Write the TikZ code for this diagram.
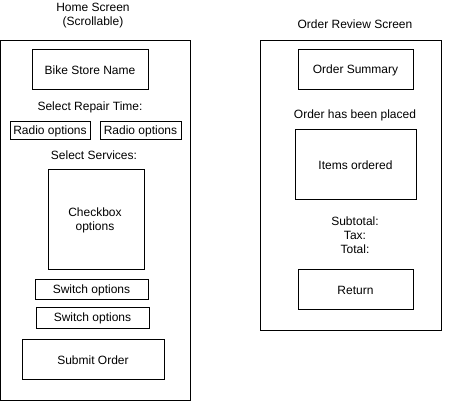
\documentclass[tikz,border=0pt]{standalone}
\usepackage{fontspec}
\setmainfont{Liberation Sans}
\begin{document}
\begin{tikzpicture}[x=1pt,y=-1pt,
  box/.style={draw=black,line width=1pt,inner sep=0pt,font=\fontsize{12}{14}\selectfont,align=center},
  lbl/.style={inner sep=0pt,font=\fontsize{12}{14}\selectfont,align=center}]
\useasboundingbox (0,0) rectangle (451,401);
% left screen
\node[lbl] (hometitle) at (93,16) {Home Screen\\(Scrollable)};
\node[box,minimum width=190pt,minimum height=360pt] (home) at (95.5,220.5) {};
\node[box,minimum width=116pt,minimum height=40pt] (store) at (90,70) {Bike Store Name};
\node[lbl] (repair) at (90,107) {Select Repair Time:};
\node[box,minimum width=80pt,minimum height=18pt] (radio1) at (50,131) {Radio options};
\node[box,minimum width=81pt,minimum height=18pt] (radio2) at (140.5,131) {Radio options};
\node[lbl] (services) at (94,155) {Select Services:};
\node[box,minimum width=96pt,minimum height=100pt] (check) at (96,220) {};
\node[lbl,anchor=north] (checktxt) at (95,207.5) {Checkbox\\options};
\node[box,minimum width=113pt,minimum height=20pt] (switch1) at (91.5,290) {Switch options};
\node[box,minimum width=113pt,minimum height=21pt] (switch2) at (92.5,318.5) {Switch options};
\node[box,minimum width=142pt,minimum height=40pt] (submit) at (93,360) {Submit Order};
% right screen
\node[lbl] (revtitle) at (355,24.5) {Order Review Screen};
\node[box,minimum width=181pt,minimum height=290pt] (review) at (350.5,185.5) {};
\node[box,minimum width=115pt,minimum height=40pt] (summary) at (355.5,70) {Order Summary};
\node[lbl] (placed) at (355,115) {Order has been placed};
\node[box,minimum width=121pt,minimum height=70pt] (items) at (355.5,165) {Items ordered};
\node[lbl] (totals) at (355,235) {Subtotal:\\Tax:\\Total:};
\node[box,minimum width=115pt,minimum height=40pt] (return) at (355.5,290) {Return};
\end{tikzpicture}
\end{document}
